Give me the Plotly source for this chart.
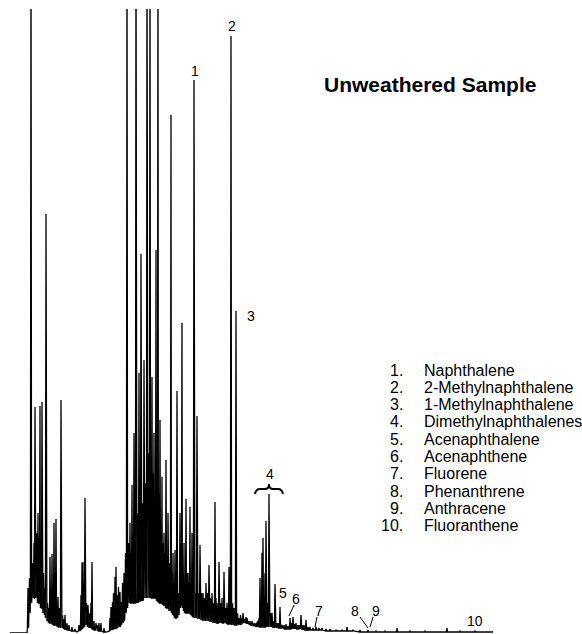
import plotly.graph_objects as go

# ---- data (x = retention position, signal = detector response) ----
# early cluster
a_x = [28, 29.5, 31, 32.5, 34, 35, 36.5, 38, 39, 40, 41, 42, 43.5, 45, 46, 47.5, 49, 50, 52, 53,
       54, 55, 56, 58, 59.5, 61, 62.5, 64, 65, 67, 69, 72, 75]
a_top = [45, 55, 700, 70, 90, 226, 100, 120, 95, 227, 90, 231, 60, 45, 419, 30, 25, 76, 79, 40,
         110, 60, 114, 36, 25, 233, 18, 14, 18, 10, 8, 6, 4]
a_base = [5, 20, 30, 35, 35, 35, 35, 30, 30, 30, 25, 25, 20, 18, 15, 12, 10, 10, 10, 8,
          8, 8, 8, 6, 6, 5, 5, 4, 4, 3, 3, 2, 2]
# second cluster
b_x = [79, 81, 82, 83, 84, 85, 86.5, 88, 89.5, 91, 92, 94, 96, 98, 99, 101, 104]
b_top = [8, 38, 70, 71, 50, 135, 30, 28, 20, 30, 71, 12, 10, 8, 10, 10, 5]
b_base = [2, 3, 4, 6, 6, 8, 8, 6, 5, 5, 4, 3, 3, 2, 2, 2, 1]
# main cluster (naphthalenes region)
c_x = [110, 111, 112.5, 113.5, 115, 116, 117, 118.5, 120, 121,
       122.5, 124, 125.5, 127, 128.5, 130, 131, 132, 133, 134,
       135, 136, 137.5, 139, 140, 141, 142.5, 144, 145.5, 147,
       148.5, 150, 151, 152, 153, 154, 155, 156, 157, 158,
       159, 160, 161, 162, 163, 164, 165, 166, 167, 168,
       169.5, 171, 172, 173, 174, 175, 176, 177, 178.5, 180,
       181, 182, 183, 184, 185, 186, 187, 188, 189, 190,
       191, 192, 193, 194, 195.5, 197, 198.5, 200, 201.5, 203,
       204.5, 206, 207.5, 209, 210.5, 212, 213.5, 215, 216, 217,
       218, 219, 220.5, 222, 223, 224, 225.5, 227, 228, 229,
       231, 232.5, 234, 236, 237.5, 239]
c_top = [15, 26, 31, 40, 56, 66, 38, 46, 41, 31,
         50, 60, 80, 700, 90, 110, 80, 148, 100, 200,
         90, 700, 120, 260, 150, 379, 130, 273, 150, 700,
         180, 700, 140, 256, 160, 200, 130, 383, 120, 700,
         140, 213, 100, 156, 90, 100, 80, 173, 70, 120,
         70, 518, 60, 80, 50, 83, 40, 242, 40, 120,
         60, 310, 60, 90, 50, 134, 60, 60, 50, 126,
         50, 100, 40, 553, 40, 217, 40, 88, 40, 40,
         35, 50, 40, 68, 35, 40, 30, 131, 35, 30,
         25, 71, 30, 35, 25, 61, 25, 30, 25, 66,
         597, 30, 25, 322, 20, 15]
c_base = [2, 3, 3, 4, 4, 5, 5, 6, 6, 8,
          10, 12, 20, 25, 30, 30, 30, 30, 30, 30,
          30, 30, 30, 32, 32, 32, 32, 35, 35, 35,
          35, 35, 35, 35, 35, 35, 35, 35, 32, 32,
          30, 30, 30, 30, 28, 28, 28, 25, 25, 25,
          22, 22, 20, 18, 18, 15, 15, 15, 18, 25,
          28, 28, 25, 22, 20, 20, 20, 20, 20, 20,
          18, 18, 16, 15, 15, 15, 14, 14, 13, 12,
          12, 12, 12, 12, 11, 11, 10, 10, 10, 10,
          10, 10, 10, 10, 10, 10, 10, 9, 9, 9,
          9, 8, 8, 8, 8, 8]
# late eluting region (dimethylnaphthalenes onward)
d_x = [240.5, 242, 243, 244.5, 246, 247, 248.5, 250, 252, 254,
       256, 257.5, 259, 260, 261, 262, 263, 264, 265, 266,
       267.5, 269, 270.5, 272, 273.5, 275, 276.5, 278, 280, 282,
       284, 286, 288, 290, 291.5, 293, 294.5, 296, 298, 299.5,
       301, 302.5, 304, 306, 308, 310, 313, 316, 319, 322,
       326, 330, 336, 342, 347, 353, 360, 368, 376, 385,
       397, 410, 425, 447, 460, 475]
d_top = [18, 15, 20, 14, 16, 15, 12, 12, 12, 10,
         10, 12, 15, 55, 30, 80, 95, 30, 60, 112,
         30, 139, 20, 20, 12, 49, 10, 10, 26, 8,
         8, 9, 7, 15, 10, 16, 9, 10, 8, 8,
         18, 8, 8, 13, 6, 6, 5, 6, 5, 5,
         4, 4, 3, 3, 6, 3, 3, 3, 2, 2,
         5, 2, 2, 5, 2, 2]
d_base = [8, 10, 10, 10, 10, 9, 9, 8, 8, 7,
          6, 6, 6, 6, 6, 6, 6, 6, 6, 6,
          6, 6, 6, 6, 5, 5, 5, 5, 5, 5,
          4, 4, 4, 4, 4, 4, 4, 4, 4, 4,
          4, 3, 3, 3, 3, 3, 3, 3, 3, 3,
          2, 2, 2, 2, 2, 2, 1, 1, 1, 1,
          1, 1, 1, 1, 1, 1]
baseline_x = [10, 27, 77, 106, 493]
baseline_y = [0, 0, 1, 1, 1]

peak_labels = ["1", "2", "3", "4", "5", "6", "7", "8", "9", "10"]
label_x = [195, 232, 251, 270, 283, 296, 319, 355, 376, 475]
label_y = [562, 607, 317, 159, 40, 34, 22, 22, 22, 12]

compounds = ["Naphthalene", "2-Methylnaphthalene", "1-Methylnaphthalene",
             "Dimethylnaphthalenes", "Acenaphthalene", "Acenaphthene", "Fluorene",
             "Phenanthrene", "Anthracene", "Fluoranthene"]
title_text = "Unweathered Sample"

# ---- build the trace: baseline knots plus a narrow spike for each peak ----
items = [(x, [(x, y)]) for x, y in zip(baseline_x, baseline_y)]
HW = 0.6
for px, pt, pb in zip(a_x + b_x + c_x + d_x, a_top + b_top + c_top + d_top,
                      a_base + b_base + c_base + d_base):
    items.append((px, [(px - HW, pb), (px, pt), (px + HW, pb)]))
items.sort(key=lambda it: it[0])
xs, ys = [], []
for _, seg in items:
    for x, y in seg:
        xs.append(x)
        ys.append(y)

fig = go.Figure()
fig.add_trace(go.Scatter(x=xs, y=ys, mode="lines",
                         line=dict(color="black", width=1.3), hoverinfo="skip"))

FONT = "Arial, 'Liberation Sans', sans-serif"
ann = []
for t, x, y in zip(peak_labels, label_x, label_y):
    ann.append(dict(x=x, y=y, text=t, showarrow=False, xanchor="center", yanchor="middle",
                    font=dict(family=FONT, size=14, color="black")))
for i, name in enumerate(compounds):
    ypix = 370 + 17.3 * i
    ann.append(dict(x=405, y=633 - ypix, text=f"{i+1}.", showarrow=False, xanchor="right",
                    yanchor="middle", font=dict(family=FONT, size=16, color="black")))
    ann.append(dict(x=422, y=633 - ypix, text=name, showarrow=False, xanchor="left",
                    yanchor="middle", font=dict(family=FONT, size=16, color="black")))
ann.append(dict(x=430, y=549, text=f"<b>{title_text}</b>", showarrow=False, xanchor="center",
                yanchor="middle", font=dict(family=FONT, size=21, color="black")))

shapes = [
    # brace over the dimethylnaphthalenes group
    dict(type="path", xref="x", yref="y",
         path="M 255,139 Q 256,144 260,144 L 265,144 Q 269,144 269,149 Q 269,144 273,144 L 278,144 Q 282,144 283,139",
         line=dict(color="black", width=2)),
    # leader lines
    dict(type="line", x0=294, y0=28, x1=289, y1=17, line=dict(color="black", width=1)),
    dict(type="line", x0=317, y0=16, x1=315, y1=6, line=dict(color="black", width=1)),
    dict(type="line", x0=360, y0=16, x1=368, y1=5, line=dict(color="black", width=1)),
    dict(type="line", x0=373, y0=16, x1=370, y1=6, line=dict(color="black", width=1)),
]

fig.update_layout(
    width=582, height=634,
    margin=dict(l=0, r=0, t=9, b=1),
    paper_bgcolor="white", plot_bgcolor="white",
    showlegend=False,
    xaxis=dict(range=[0, 582], visible=False, fixedrange=True),
    yaxis=dict(range=[0, 624], visible=False, fixedrange=True),
    annotations=ann, shapes=shapes,
)
fig.write_html("out.html", config={"displayModeBar": False, "staticPlot": True},
               post_script="document.body.style.margin='0';document.body.style.overflow='hidden';")
